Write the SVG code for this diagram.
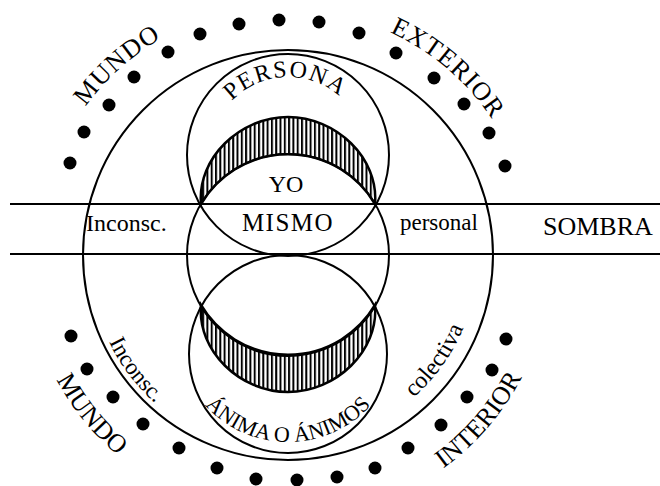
<svg xmlns="http://www.w3.org/2000/svg" width="660" height="486" viewBox="0 0 660 486">
<style>
.ln{fill:none;stroke:#000;stroke-width:2}
.t{font-family:"Liberation Serif","Times New Roman",serif;fill:#000}
.dot{fill:#000}
.cres{fill:url(#hatch);stroke:#000;stroke-width:2.5}
</style>
<defs>
<pattern id="hatch" patternUnits="userSpaceOnUse" width="4.3" height="10">
<rect width="4.3" height="10" fill="#fff"/>
<rect x="0" y="0" width="2" height="10" fill="#000"/>
</pattern>
<path id="pTopL" d="M 49.3 177.4 A 251 251 0 0 1 235.8 9.5"/>
<path id="pTopR" d="M 332.6 14.1 A 245 245 0 0 1 518.9 173.2"/>
<path id="pBotL" d="M 28.2 296.1 A 263 263 0 0 0 193.7 500.5"/>
<path id="pBotR" d="M 374.8 504.3 A 264 264 0 0 0 547.3 304.5"/>
<path id="pIncL" d="M 90.5 279.3 A 199 199 0 0 0 210.2 438.2"/>
<path id="pCol" d="M 366.5 428 A 190 190 0 0 0 477.1 273.5"/>
<path id="pPer" d="M 219.1 118.4 A 78 78 0 0 1 354.1 113.7"/>
<path id="pAni" d="M 191 386 A 112 112 0 0 0 385 386"/>
</defs>
<rect width="660" height="486" fill="#fff"/>

<g id="dots">
<circle class="dot" cx="70" cy="163" r="6.5"/>
<circle class="dot" cx="84" cy="132" r="6.5"/>
<circle class="dot" cx="109" cy="105" r="6.5"/>
<circle class="dot" cx="134" cy="77" r="6.5"/>
<circle class="dot" cx="168" cy="52" r="6.5"/>
<circle class="dot" cx="200" cy="34" r="6.5"/>
<circle class="dot" cx="239" cy="24" r="6.5"/>
<circle class="dot" cx="279" cy="20" r="6.5"/>
<circle class="dot" cx="319" cy="22" r="6.5"/>
<circle class="dot" cx="359" cy="33" r="6.5"/>
<circle class="dot" cx="396" cy="53" r="6.5"/>
<circle class="dot" cx="434" cy="78" r="6.5"/>
<circle class="dot" cx="464" cy="104" r="6.5"/>
<circle class="dot" cx="489" cy="133" r="6.5"/>
<circle class="dot" cx="505" cy="166" r="6.5"/>
<circle class="dot" cx="71" cy="336" r="6.5"/>
<circle class="dot" cx="87" cy="369" r="6.5"/>
<circle class="dot" cx="113" cy="397" r="6.5"/>
<circle class="dot" cx="143" cy="424" r="6.5"/>
<circle class="dot" cx="179" cy="448" r="6.5"/>
<circle class="dot" cx="217" cy="468" r="6.5"/>
<circle class="dot" cx="256" cy="479" r="6.5"/>
<circle class="dot" cx="297" cy="480" r="6.5"/>
<circle class="dot" cx="337" cy="477" r="6.5"/>
<circle class="dot" cx="375" cy="468" r="6.5"/>
<circle class="dot" cx="408" cy="448" r="6.5"/>
<circle class="dot" cx="441" cy="425" r="6.5"/>
<circle class="dot" cx="467" cy="397" r="6.5"/>
<circle class="dot" cx="492" cy="370" r="6.5"/>
<circle class="dot" cx="506" cy="339" r="6.5"/>
</g>

<g id="band">
<line class="ln" x1="10" y1="204" x2="660" y2="204"/>
<line class="ln" x1="10" y1="254" x2="660" y2="254"/>
</g>

<g id="crescents">
<path class="cres" d="M 201 204 C 197 158 240 117 288 117 C 336 117 379 158 375 204 A 101 101 0 0 0 201 204 Z"/>
<path class="cres" d="M 201 305 C 197 351 240 392 288 392 C 336 392 379 351 375 305 A 101 101 0 0 1 201 305 Z"/>
</g>

<g id="circles">
<circle id="mundo" class="ln" cx="288" cy="255" r="205"/>
<circle id="persona" class="ln" cx="288" cy="155" r="101"/>
<circle id="mismo" class="ln" cx="288" cy="255" r="101"/>
<circle id="anima" class="ln" cx="288" cy="354" r="99"/>
</g>

<g id="labels">
<text class="t" font-size="26" letter-spacing="1"><textPath href="#pTopL" startOffset="50%" text-anchor="middle">MUNDO</textPath></text>
<text class="t" font-size="26" letter-spacing="1"><textPath href="#pTopR" startOffset="50%" text-anchor="middle">EXTERIOR</textPath></text>
<text class="t" font-size="26"><textPath href="#pBotL" startOffset="50%" text-anchor="middle">MUNDO</textPath></text>
<text class="t" font-size="26"><textPath href="#pBotR" startOffset="50%" text-anchor="middle">INTERIOR</textPath></text>
<text class="t" font-size="23"><textPath href="#pIncL" startOffset="50%" text-anchor="middle">Inconsc.</textPath></text>
<text class="t" font-size="24"><textPath href="#pCol" startOffset="50%" text-anchor="middle">colectiva</textPath></text>
<text class="t" font-size="24" letter-spacing="1.5"><textPath href="#pPer" startOffset="50%" text-anchor="middle">PERSONA</textPath></text>
<text class="t" font-size="22"><textPath href="#pAni" startOffset="50%" text-anchor="middle">ÁNIMA O ÁNIMOS</textPath></text>
<text class="t" font-size="24" x="286" y="192" text-anchor="middle">YO</text>
<text class="t" font-size="25" x="288" y="231" text-anchor="middle" letter-spacing="1.5">MISMO</text>
<text class="t" font-size="24" x="86" y="231">Inconsc.</text>
<text class="t" font-size="23" x="400" y="230">personal</text>
<text class="t" font-size="26" x="543" y="235">SOMBRA</text>
</g>
</svg>
